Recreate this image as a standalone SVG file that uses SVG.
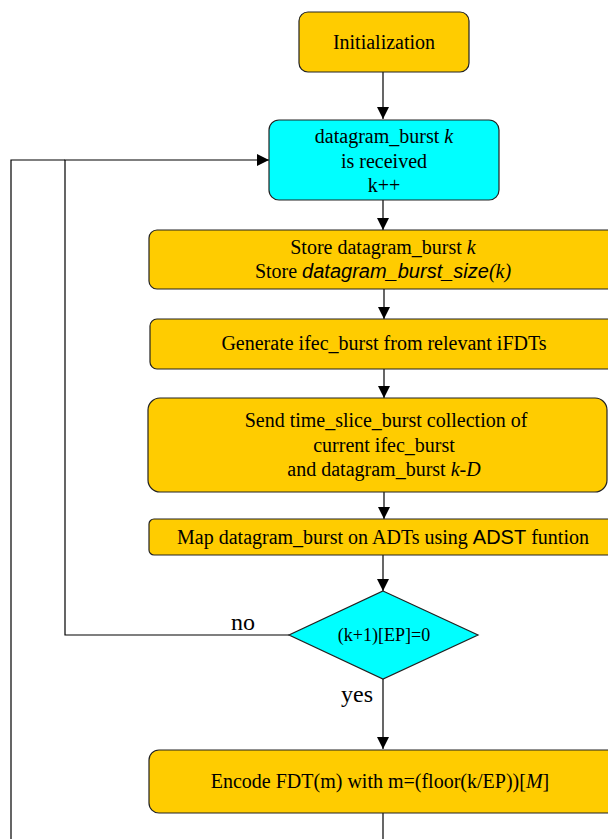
<svg xmlns="http://www.w3.org/2000/svg" width="608" height="839" viewBox="0 0 608 839">
<style>
.box{fill:#FFCC00;stroke:#222;stroke-width:1.2}
.cy{fill:#00FFFF;stroke:#222;stroke-width:1.2}
.t{font-family:"Liberation Serif","Times New Roman",serif;font-size:20px;fill:#000;text-anchor:middle}
.d{font-size:18px}
.s{font-family:"Liberation Sans",Arial,sans-serif}
.i{font-style:italic}
.lbl{font-family:"Liberation Serif","Times New Roman",serif;font-size:24px;fill:#000}
.c{fill:none;stroke:#000;stroke-width:1.2}
</style>
<defs>
<marker id="ahv" viewBox="0 0 12 12" refX="12" refY="6" markerWidth="12" markerHeight="12" markerUnits="userSpaceOnUse" orient="auto">
<path d="M0,0 L12,6 L0,12 z" fill="#000"/>
</marker>
</defs>
<g id="connectors">
<path class="c" d="M383,72 V119" marker-end="url(#ahv)"/>
<path class="c" d="M383,200 V230" marker-end="url(#ahv)"/>
<path class="c" d="M384,289 V319" marker-end="url(#ahv)"/>
<path class="c" d="M384,369 V398" marker-end="url(#ahv)"/>
<path class="c" d="M384,492 V519" marker-end="url(#ahv)"/>
<path class="c" d="M383,555 V591" marker-end="url(#ahv)"/>
<path class="c" d="M383,679 V749" marker-end="url(#ahv)"/>
<path class="c" d="M289,635 H65 V160 H269" marker-end="url(#ahv)"/>
<path class="c" d="M65,160 H11 V839"/>
<path class="c" d="M383,813 V839"/>
</g>
<g id="n_init">
<rect class="box" x="299" y="12" width="170" height="60" rx="9"/>
<text class="t" x="384" y="49">Initialization</text>
</g>
<g id="n_recv">
<rect class="cy" x="269" y="120" width="230" height="80" rx="10"/>
<text class="t" x="384" y="143">datagram_burst <tspan class="i">k</tspan></text>
<text class="t" x="384" y="168">is received</text>
<text class="t" x="384" y="192">k++</text>
</g>
<g id="n_store">
<rect class="box" x="149" y="230" width="470" height="59" rx="8"/>
<text class="t" x="383" y="254">Store datagram_burst <tspan class="i">k</tspan></text>
<text class="t" x="383" y="278">Store <tspan class="s i">datagram_burst_size</tspan><tspan class="i">(k)</tspan></text>
</g>
<g id="n_gen">
<rect class="box" x="150" y="319" width="470" height="50" rx="7"/>
<text class="t" x="384" y="350">Generate ifec_burst from relevant iFDTs</text>
</g>
<g id="n_send">
<rect class="box" x="148" y="398" width="459" height="94" rx="12"/>
<text class="t" x="386" y="427">Send time_slice_burst collection of</text>
<text class="t" x="384" y="452">current ifec_burst</text>
<text class="t" x="384" y="476">and datagram_burst <tspan class="i">k-D</tspan></text>
</g>
<g id="n_map">
<rect class="box" x="149" y="519" width="470" height="36" rx="5"/>
<text class="t" x="383" y="544">Map datagram_burst on ADTs using <tspan class="s">ADST</tspan> funtion</text>
</g>
<g id="n_dec">
<path class="cy" d="M383,591 L478,635 L383,679 L289,635 Z"/>
<text class="t d" x="384" y="641">(k+1)[EP]=0</text>
<text class="lbl" x="231" y="630">no</text>
<text class="lbl" x="341" y="702">yes</text>
</g>
<g id="n_enc">
<rect class="box" x="149" y="750" width="470" height="63" rx="10"/>
<text class="t" x="380" y="788">Encode FDT(m) with m=(floor(k/EP))[<tspan class="i">M</tspan>]</text>
</g>
</svg>
